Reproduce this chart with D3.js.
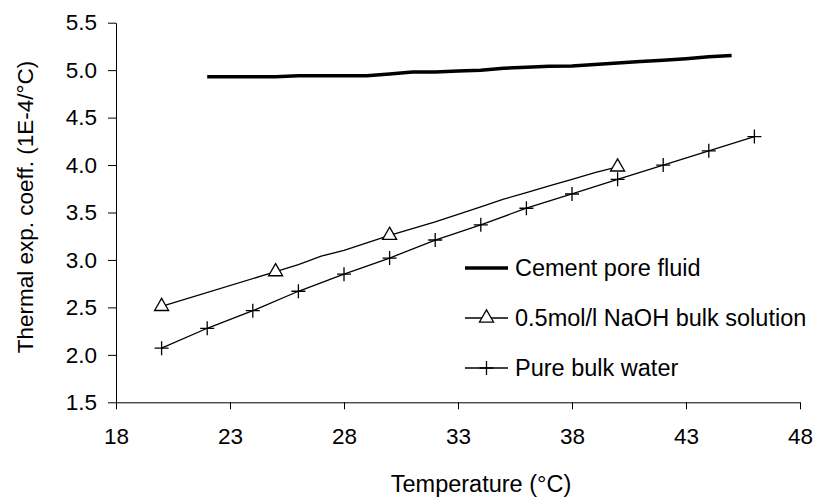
<!DOCTYPE html>
<html><head><meta charset="utf-8">
<script src="https://cdn.jsdelivr.net/npm/d3@7"></script>
<style>body{margin:0;background:#fff}svg{display:block}text{font-family:"Liberation Sans",Arial,sans-serif;fill:#000}</style>
</head><body><svg id="c" width="814" height="503"></svg>
<script>
const xTicks=[18,23,28,33,38,43,48];
const yTicks=[1.5,2.0,2.5,3.0,3.5,4.0,4.5,5.0,5.5];
const cementT=[22,23,24,25,26,27,28,29,30,31,32,33,34,35,36,37,38,39,40,41,42,43,44,45];
const cementV=[4.93,4.93,4.93,4.93,4.94,4.94,4.94,4.94,4.96,4.98,4.98,4.99,5.0,5.02,5.03,5.04,5.045,5.06,5.075,5.09,5.105,5.12,5.14,5.155];
const naohT=[20,25,26,27,28,29,30,31,32,33,34,35,36,37,38,39,40];
const naohV=[2.51,2.876,2.95,3.04,3.1,3.18,3.26,3.33,3.4,3.48,3.56,3.64,3.71,3.78,3.85,3.92,3.98];
const naohMarkT=[20,25,30,40];
const naohMarkV=[2.51,2.876,3.26,3.98];
const waterT=[20,22,24,26,28,30,32,34,36,38,40,42,44,46];
const waterV=[2.07,2.28,2.465,2.67,2.85,3.02,3.21,3.37,3.545,3.695,3.85,4.0,4.15,4.3];
const legendLabels=["Cement pore fluid","0.5mol/l NaOH bulk solution","Pure bulk water"];

const svg=d3.select("#c");
const TFS=22.5, LFS=23.5;
const x=d3.scaleLinear().domain([18,48]).range([116,800]);
const y=d3.scaleLinear().domain([1.5,5.5]).range([402.3,22.7]);

const gx=svg.append("g").attr("transform","translate(0,402.3)")
 .call(d3.axisBottom(x).tickValues(xTicks).tickSize(7).tickSizeOuter(0).tickPadding(19).tickFormat(d3.format("d")));
gx.selectAll("text").attr("font-size",TFS).attr("font-family","Liberation Sans, Arial");
const gy=svg.append("g").attr("transform","translate(116,0)")
 .call(d3.axisLeft(y).tickValues(yTicks).tickSize(8).tickSizeOuter(0).tickPadding(11).tickFormat(d3.format(".1f")));
gy.selectAll("text").attr("font-size",TFS).attr("font-family","Liberation Sans, Arial");
svg.selectAll(".domain,.tick line").attr("stroke","#000").attr("stroke-width",1);

svg.append("text").attr("x",481).attr("y",492).attr("text-anchor","middle").attr("font-size",LFS).text("Temperature (°C)");
svg.append("text").attr("transform","translate(33,207) rotate(-90)").attr("text-anchor","middle").attr("font-size",22.5).text("Thermal exp. coeff. (1E-4/°C)");

const line=d3.line().x(d=>x(d[0])).y(d=>y(d[1]));
svg.append("path").attr("d",line(d3.zip(cementT,cementV))).attr("fill","none").attr("stroke","#000").attr("stroke-width",3.5);
svg.append("path").attr("d",line(d3.zip(naohT,naohV))).attr("fill","none").attr("stroke","#000").attr("stroke-width",1.3);
svg.append("path").attr("d",line(d3.zip(waterT,waterV))).attr("fill","none").attr("stroke","#000").attr("stroke-width",1.3);

const tri=d3.symbol().type(d3.symbolTriangle).size(85);
const plus=(cx,cy,r)=>`M${cx-r},${cy}H${cx+r}M${cx},${cy-r}V${cy+r}`;
svg.append("g").selectAll("path").data(d3.zip(naohMarkT,naohMarkV)).join("path")
 .attr("transform",d=>`translate(${x(d[0])},${y(d[1])})`).attr("d",tri)
 .attr("fill","#fff").attr("stroke","#000").attr("stroke-width",1.3);
svg.append("g").selectAll("path").data(d3.zip(waterT,waterV)).join("path")
 .attr("d",d=>plus(x(d[0]),y(d[1]),7)).attr("fill","none").attr("stroke","#000").attr("stroke-width",1.3);

const ly=[268,318,368];
const lg=svg.append("g");
legendLabels.forEach((lab,i)=>{
  lg.append("line").attr("x1",465).attr("x2",508).attr("y1",ly[i]).attr("y2",ly[i]).attr("stroke","#000").attr("stroke-width",i===0?3.5:1.3);
  if(i===1) lg.append("path").attr("transform",`translate(486.5,${ly[i]})`).attr("d",tri).attr("fill","#fff").attr("stroke","#000").attr("stroke-width",1.3);
  if(i===2) lg.append("path").attr("d",plus(486.5,ly[i],7)).attr("stroke","#000").attr("stroke-width",1.3);
  lg.append("text").attr("x",515).attr("y",ly[i]).attr("dy","0.35em").attr("font-size",LFS).text(lab);
});
</script></body></html>
